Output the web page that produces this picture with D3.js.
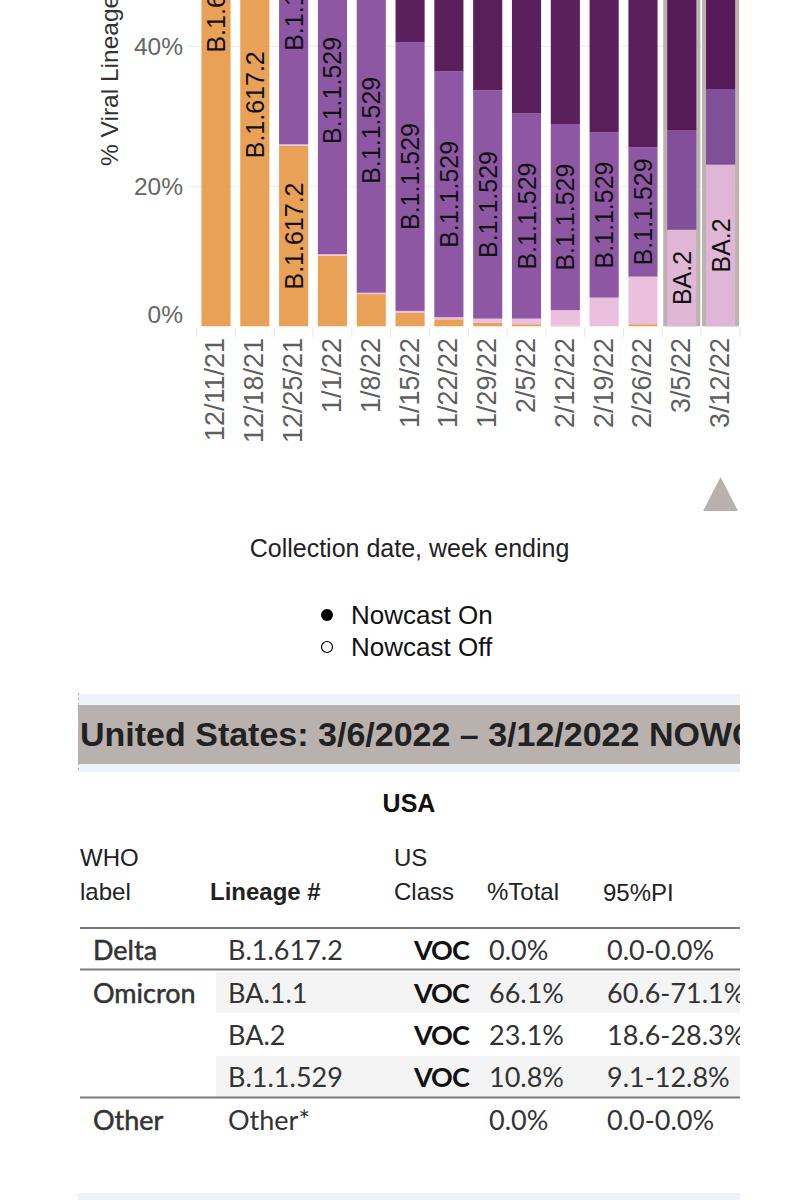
<!DOCTYPE html>
<html><head><meta charset="utf-8">
<script src="https://cdn.jsdelivr.net/npm/d3@7"></script>
<style>
html,body{margin:0;padding:0;background:#fff;}
svg{display:block;}
</style></head>
<body>
<svg id="chart" width="792" height="1200"></svg>
<script>
// ---- chart data ----
const weeks = ["12/11/21","12/18/21","12/25/21","1/1/22","1/8/22","1/15/22","1/22/22","1/29/22","2/5/22","2/12/22","2/19/22","2/26/22","3/5/22","3/12/22"];
const lineages = ["B.1.617.2","BA.2","B.1.1.529","BA.1.1"];
const deltaShare = [93.5, 63.3, 25.8, 10.1, 4.6, 1.9, 1.0, 0.5, 0.3, 0.1, 0.0, 0.3, 0.0, 0.0];
const ba2Share   = [0.1, 0.1, 0.2, 0.2, 0.2, 0.3, 0.3, 0.6, 0.8, 2.2, 4.1, 6.8, 13.8, 23.1];
const b11529Share= [6.3, 36.0, 42.0, 46.8, 46.4, 38.4, 35.1, 32.6, 29.3, 26.6, 23.6, 18.5, 14.2, 10.8];
const ba11Share  = [0.1, 0.6, 32.0, 42.9, 48.8, 59.4, 63.6, 66.3, 69.6, 71.1, 72.3, 74.4, 72.0, 66.1];
const nowcastWeeks = ["3/5/22","3/12/22"];
const yTicks = [0, 20, 40, 60, 80, 100];
const legendItems = ["Nowcast On","Nowcast Off"];

// ---- table data ----
const tableTitle = "United States: 3/6/2022 \u2013 3/12/2022 NOWCAST";
const regionName = "USA";
const whoLabels = ["Delta","Omicron","","","Other"];
const tableLineages = ["B.1.617.2","BA.1.1","BA.2","B.1.1.529","Other*"];
const usClass = ["VOC","VOC","VOC","VOC",""];
const pctTotal = ["0.0%","66.1%","23.1%","10.8%","0.0%"];
const pi95 = ["0.0-0.0%","60.6-71.1%","18.6-28.3%","9.1-12.8%","0.0-0.0%"];

const colors = {"B.1.617.2":"#E9A157","BA.2":"#EBC0DF","B.1.1.529":"#8D57A3","BA.1.1":"#5B1F5C"};
const nowColors = {"B.1.617.2":"#DE9A55","BA.2":"#E0B6D6","B.1.1.529":"#814E9A","BA.1.1":"#561B57"};

const svg = d3.select("#chart");
const sans = "'Liberation Sans', Arial, Helvetica, sans-serif";

// ---- scales ----
const x = d3.scaleBand().domain(weeks).range([196.6, 740]).paddingInner(0.25).paddingOuter(0.125);
const y = d3.scaleLinear().domain([0, 100]).range([326.3, -373.7]);

const rows = weeks.map((w, i) => ({week: w, "B.1.617.2": deltaShare[i], "BA.2": ba2Share[i], "B.1.1.529": b11529Share[i], "BA.1.1": ba11Share[i]}));
const series = d3.stack().keys(lineages)(rows);

// gridlines
svg.append("g").attr("class","grid")
  .selectAll("line").data(yTicks.filter(t => t > 0)).join("line")
  .attr("x1", 188).attr("x2", 740)
  .attr("y1", d => y(d)).attr("y2", d => y(d))
  .attr("stroke", "#ececec").attr("stroke-width", 1);

// y axis
const yAxis = svg.append("g").attr("transform", "translate(183,0)")
  .call(d3.axisLeft(y).tickValues(yTicks).tickFormat(d => d + "%").tickSize(0).tickPadding(0));
yAxis.select(".domain").remove();
yAxis.selectAll("text").attr("font-family", sans).attr("font-size", 24.5).attr("fill", "#666").attr("dy", "0.35em");
yAxis.selectAll(".tick").filter(d => d === 0).select("text").attr("dy", "-0.15em");

// y title
svg.append("text").attr("transform", "translate(109,166) rotate(-90)")
  .attr("font-family", sans).attr("font-size", 24.5).attr("fill", "#333").attr("dy", "0.35em")
  .text("% Viral Lineages Among Infections");

// nowcast outlines
svg.append("g").selectAll("rect").data(nowcastWeeks).join("rect")
  .attr("x", d => x(d) - 4).attr("width", x.bandwidth() + 8)
  .attr("y", y(100)).attr("height", y(0) - y(100))
  .attr("fill", "#BAB2AF");

// bars
const barG = svg.append("g");
series.forEach(s => {
  barG.append("g").selectAll("rect").data(s).join("rect")
    .attr("x", d => x(d.data.week)).attr("width", x.bandwidth())
    .attr("y", d => y(d[1])).attr("height", d => Math.max(0, y(d[0]) - y(d[1])))
    .attr("fill", d => nowcastWeeks.includes(d.data.week) ? nowColors[s.key] : colors[s.key]);
});

// segment labels
const labG = svg.append("g");
series.forEach(s => {
  s.forEach(d => {
    const h = y(d[0]) - y(d[1]);
    const cx = x(d.data.week) + x.bandwidth() / 2;
    const cy = (y(d[0]) + y(d[1])) / 2;
    const t = labG.append("text")
      .attr("transform", `translate(${cx},${cy}) rotate(-90)`)
      .attr("text-anchor", "middle").attr("dy", "0.36em")
      .attr("font-family", sans).attr("font-size", 25).attr("fill", "#111")
      .text(s.key);
    if (t.node().getComputedTextLength() > h - 6) t.remove();
  });
});

// x axis separators
const step = x.step(), gap = step - x.bandwidth();
svg.append("g").selectAll("line").data(weeks.concat(["end"])).join("line")
  .attr("x1", (d, i) => x.range()[0] + x.paddingOuter() * step - gap / 2 + i * step)
  .attr("x2", (d, i) => x.range()[0] + x.paddingOuter() * step - gap / 2 + i * step)
  .attr("y1", 328).attr("y2", 337).attr("stroke", "#e6e6e6");

// x axis labels
const xAxis = svg.append("g").attr("transform", "translate(-1,338)")
  .call(d3.axisBottom(x).tickSize(0).tickPadding(0));
xAxis.select(".domain").remove();
xAxis.selectAll("text")
  .attr("font-family", sans).attr("font-size", 27).attr("fill", "#5f5f5f")
  .attr("text-anchor", "end").attr("transform", "rotate(-90)")
  .attr("x", 0).attr("y", 0).attr("dy", "0.35em");

// scroll triangle
svg.append("path").attr("d", "M720.5,477 L703,511 L738,511 Z").attr("fill", "#B9B1AE");

// x title
svg.append("text").attr("x", 409.5).attr("y", 557).attr("text-anchor", "middle")
  .attr("font-family", sans).attr("font-size", 25).attr("fill", "#222")
  .text("Collection date, week ending");

// legend
const leg = svg.append("g");
legendItems.forEach((name, i) => {
  const yy = 615 + i * 32;
  leg.append("circle").attr("cx", 327).attr("cy", yy).attr("r", i === 0 ? 6 : 5.5)
    .attr("fill", i === 0 ? "#000" : "#fff").attr("stroke", "#000").attr("stroke-width", i === 0 ? 0 : 1.2);
  leg.append("text").attr("x", 351).attr("y", yy).attr("dy", "0.35em")
    .attr("font-family", sans).attr("font-size", 26).attr("fill", "#111").text(name);
});

// ---- table ----
svg.append("defs").append("clipPath").attr("id", "clipR")
  .append("rect").attr("x", 0).attr("y", 0).attr("width", 740).attr("height", 1200);
const tbl = svg.append("g").attr("clip-path", "url(#clipR)");

tbl.append("rect").attr("x", 78).attr("y", 694).attr("width", 662).attr("height", 78).attr("fill", "#EEF3FB");
tbl.append("rect").attr("x", 78).attr("y", 705).attr("width", 662).attr("height", 59).attr("fill", "#B9B1AE");
tbl.append("line").attr("x1", 78.5).attr("x2", 78.5).attr("y1", 693).attr("y2", 773)
  .attr("stroke", "#aaa").attr("stroke-dasharray", "2,3");
tbl.append("text").attr("x", 80).attr("y", 746)
  .attr("font-family", sans).attr("font-weight", "bold").attr("font-size", 34).attr("fill", "#222")
  .text(tableTitle);

tbl.append("text").attr("x", 409).attr("y", 812).attr("text-anchor", "middle")
  .attr("font-family", sans).attr("font-weight", "bold").attr("font-size", 25).attr("fill", "#111")
  .text(regionName);

const hdr = [
  {t:"WHO", x:80, y:866}, {t:"label", x:80, y:900},
  {t:"Lineage #", x:210, y:900, b:true},
  {t:"US", x:394, y:866}, {t:"Class", x:394, y:900},
  {t:"%Total", x:487, y:900}, {t:"95%PI", x:603, y:901}
];
tbl.selectAll("text.hdr").data(hdr).join("text").attr("class", "hdr")
  .attr("x", d => d.x).attr("y", d => d.y)
  .attr("font-family", sans).attr("font-size", 24).attr("font-weight", d => d.b ? "bold" : "normal")
  .attr("fill", "#222").text(d => d.t);

const rowY = [950, 993, 1035, 1077, 1120];
// striped rows
[1, 3].forEach(i => {
  tbl.append("rect").attr("x", 216).attr("y", rowY[i] - 21).attr("width", 524).attr("height", 41).attr("fill", "#F4F4F4");
});
// rules
[928, 969.5, 1097.5].forEach(yy => {
  tbl.append("line").attr("x1", 80).attr("x2", 740).attr("y1", yy).attr("y2", yy)
    .attr("stroke", "#7a7a7a").attr("stroke-width", 2.2);
});

const body = "Lato, 'Open Sans', sans-serif";
const colX = [93, 228, 414, 489, 607];
const cols = [whoLabels, tableLineages, usClass, pctTotal, pi95];
cols.forEach((col, c) => {
  tbl.append("g").selectAll("text").data(col).join("text")
    .attr("x", colX[c]).attr("y", (d, i) => rowY[i]).attr("dy", "0.36em")
    .attr("font-family", body).attr("font-size", 27)
    .attr("font-weight", c === 2 ? 700 : 400)
    .attr("letter-spacing", c === 2 ? -1 : 0)
    .attr("stroke", c === 0 ? "#333" : "none").attr("stroke-width", c === 0 ? 0.5 : 0)
    .attr("fill", c === 2 ? "#111" : "#333")
    .text(d => d);
});

tbl.append("rect").attr("x", 78).attr("y", 1193).attr("width", 662).attr("height", 7).attr("fill", "#EEF3FB");
</script>
</body></html>
